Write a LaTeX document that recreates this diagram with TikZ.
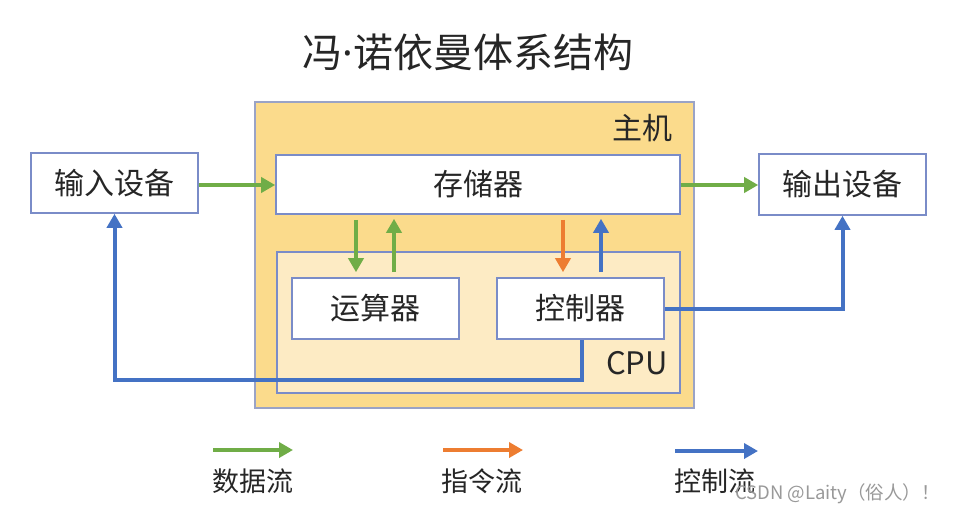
\documentclass[tikz,border=0pt]{standalone}
\usepackage{fontspec}
\setmainfont{Noto Sans CJK SC}
\newfontfamily\cjk{Noto Sans CJK SC}
\newfontfamily\latinsans{Noto Sans}
\usetikzlibrary{arrows.meta}
\definecolor{gflow}{HTML}{70AD47}
\definecolor{oflow}{HTML}{ED7D31}
\definecolor{bflow}{HTML}{4472C4}
\definecolor{boxline}{HTML}{7A8CC8}
\definecolor{hostline}{HTML}{9AA3C6}
\definecolor{hostfill}{HTML}{FBDB8C}
\definecolor{cpufill}{HTML}{FDEBC4}
\definecolor{txt}{HTML}{262626}
\tikzset{
  wbox/.style={draw=boxline, line width=1.6pt, fill=white, text=txt, inner sep=0pt, font=\cjk\fontsize{30}{32}\selectfont},
  flow/.style={line width=4pt, -{Triangle[length=14pt,width=15pt]}},
  gline/.style={flow, draw=gflow, color=gflow},
  oline/.style={flow, draw=oflow, color=oflow},
  bline/.style={flow, draw=bflow, color=bflow},
  legtext/.style={text=txt, font=\cjk\fontsize{27}{29}\selectfont},
}
\begin{document}
\begin{tikzpicture}[x=1pt,y=-1pt]
\useasboundingbox (0,0) rectangle (953,512);
\fill[white] (0,0) rectangle (953,512);
% title
\node[text=txt, font=\cjk\fontsize{40}{42}\selectfont] (title) at (468,52) {冯{\latinsans·}诺依曼体系结构};
% host
\node[draw=hostline, line width=1.6pt, fill=hostfill, minimum width=439pt, minimum height=306pt, inner sep=0pt] (host) at (474.5,255) {};
\node[text=txt, font=\cjk\fontsize{30}{32}\selectfont] (hostlab) at (642,128) {主机};
% memory
\node[wbox, minimum width=404pt, minimum height=59pt] (mem) at (478,184.5) {存储器};
% cpu
\node[draw=boxline, line width=1.6pt, fill=cpufill, minimum width=403pt, minimum height=141pt, inner sep=0pt] (cpu) at (478.5,322.5) {};
\node[text=txt, font=\cjk\fontsize{31}{33}\selectfont] (cpulab) at (637,363) {CPU};
\node[wbox, minimum width=167pt, minimum height=61pt] (alu) at (375.5,308.5) {运算器};
\node[wbox, minimum width=167pt, minimum height=61pt] (ctl) at (580.5,308.5) {控制器};
% io
\node[wbox, minimum width=167pt, minimum height=60pt] (in) at (114.5,183) {输入设备};
\node[wbox, minimum width=167pt, minimum height=61pt] (out) at (842.5,184.5) {输出设备};
% coordinates
\coordinate (ga) at (356,0);
\coordinate (gb) at (394,0);
\coordinate (oa) at (563,0);
\coordinate (ba) at (601,0);
\coordinate (cb) at (582,0);
\coordinate (lowbus) at (0,380);
% data flows
\draw[gline] (in.east |- 0,185) -- (mem.west |- 0,185);
\draw[gline] (mem.east |- 0,185) -- (out.west |- 0,185);
\draw[gline, shorten <=5pt, shorten >=5pt] (mem.south -| ga) -- (alu.north -| ga);
\draw[gline, shorten <=5pt, shorten >=4pt] (alu.north -| gb) -- (mem.south -| gb);
\draw[oline, shorten <=5pt, shorten >=5pt] (mem.south -| oa) -- (ctl.north -| oa);
\draw[bline, shorten <=5pt, shorten >=4pt] (ctl.north -| ba) -- (mem.south -| ba);
% control flows
\draw[bline] (ctl.east) -| (out.south);
\draw[bline] (ctl.south -| cb) -- (cb |- lowbus) -| (in.south);
% legend
\coordinate (l1a) at (213,450); \coordinate (l1b) at (293,450);
\coordinate (l2a) at (443,450); \coordinate (l2b) at (523,450);
\coordinate (l3a) at (675,451); \coordinate (l3b) at (758,451);
\draw[gline] (l1a) -- (l1b);
\draw[oline] (l2a) -- (l2b);
\draw[bline] (l3a) -- (l3b);
\node[legtext] (lg1) at (253,481) {数据流};
\node[legtext] (lg2) at (482,481) {指令流};
\node[legtext] (lg3) at (715,481) {控制流};
% watermark
\node[anchor=west, text=gray!80, font=\cjk\fontsize{18.5}{20}\selectfont, inner sep=0pt] (wm) at (735,494) {CSDN @Laity（俗人）！};
\end{tikzpicture}
\end{document}
